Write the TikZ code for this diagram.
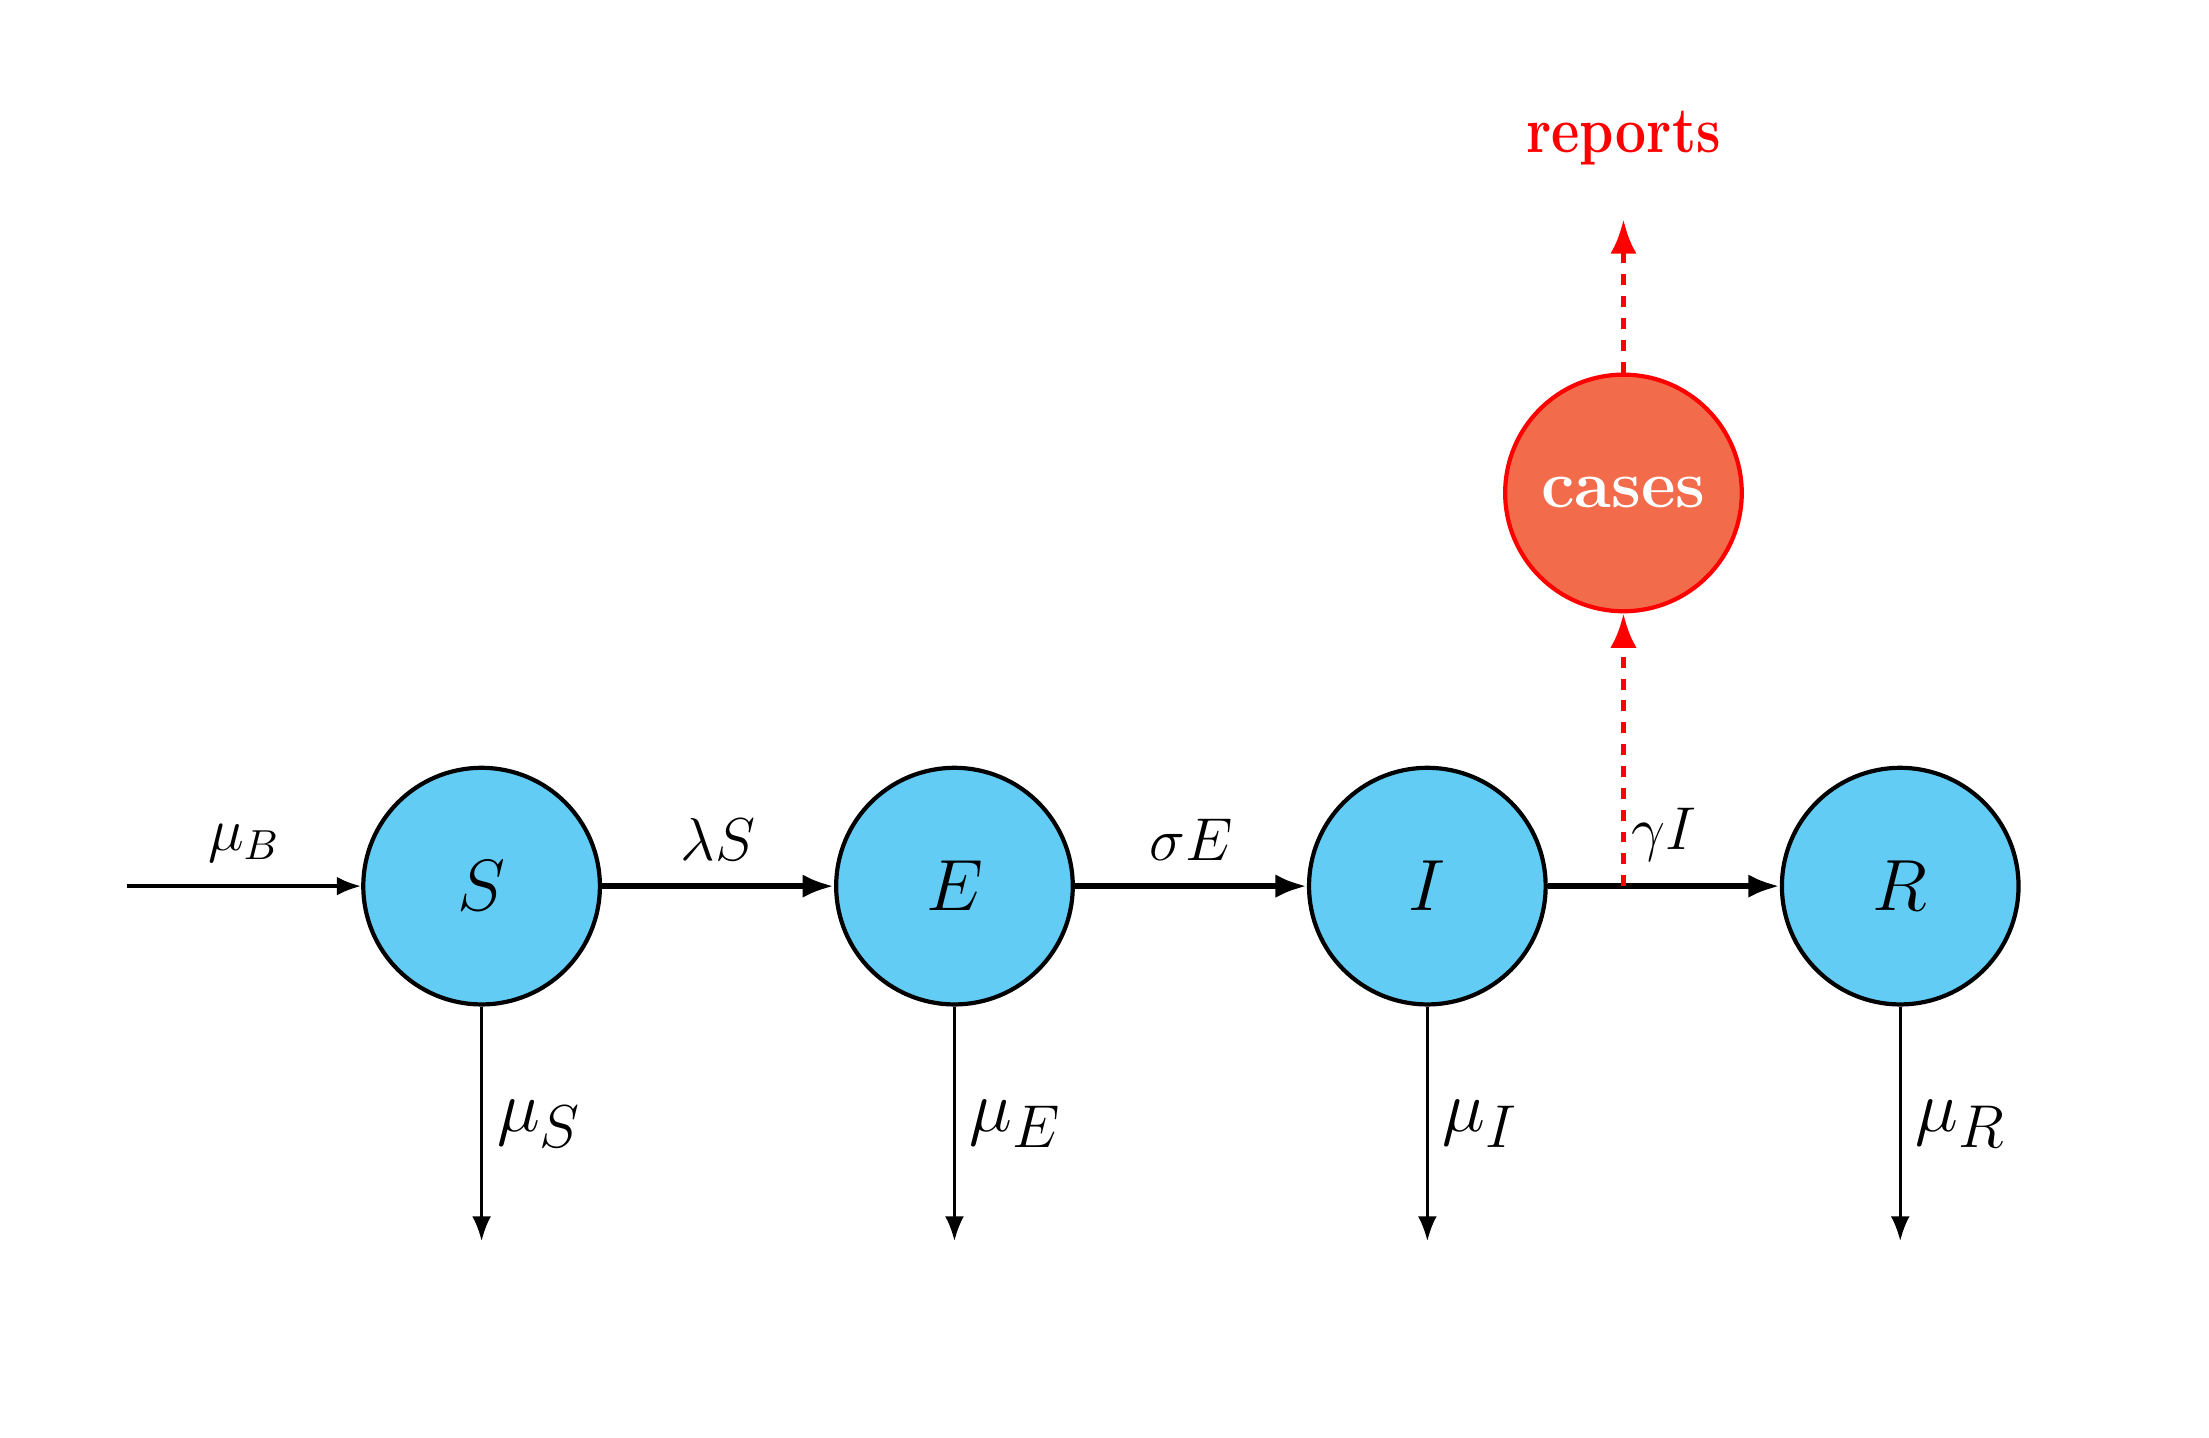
\documentclass[tikz,border=0pt]{standalone}
\usepackage{graphicx}
\usetikzlibrary{arrows.meta}
\definecolor{compblue}{RGB}{99,204,245}
\definecolor{casefill}{RGB}{242,107,75}
\begin{document}
\begin{tikzpicture}[
  comp/.style={circle, draw=black, line width=1pt, fill=compblue, minimum size=1.98cm, inner sep=0pt, font=\LARGE},
  obs/.style={circle, draw=red, line width=1pt, fill=casefill, minimum size=1.98cm, inner sep=0pt, font=\fontsize{16pt}{19pt}\selectfont\bfseries, text=white},
  flow/.style={-{Latex[length=7.5pt,width=5.6pt]}, line width=1.4pt},
  inflow/.style={-{Latex[length=5.8pt,width=4.5pt]}, line width=0.9pt},
  outflow/.style={-{Latex[length=5.9pt,width=4.5pt]}, line width=0.7pt},
  report/.style={-{Latex[length=8.2pt,width=6.3pt]}, red, line width=1.4pt, dash pattern=on 2.6pt off 2.6pt},
  rate/.style={font=\Large, above=2pt},
  outrate/.style={font=\LARGE, right=0pt}
]
\useasboundingbox (0,0) rectangle (18.485,12.025);
\node[comp] (S) at (4.03,4.61) {$S$};
\node[comp] (E) at (7.987,4.61) {$E$};
\node[comp] (I) at (11.944,4.61) {$I$};
\node[comp] (R) at (15.901,4.61) {$R$};
\node[obs] (C) at (13.585,7.90) {cases};
\node[text=red] (rep) at (13.585,10.87) {\scalebox{0.845}[1]{\fontsize{15.5pt}{18pt}\selectfont\bfseries reports}};
\coordinate (in) at (1.062,4.61);
\coordinate (g) at (13.585,4.61);
\coordinate (rtip) at (13.585,10.19);
\coordinate (dS) at (4.03,1.64);
\coordinate (dE) at (7.987,1.64);
\coordinate (dI) at (11.944,1.64);
\coordinate (dR) at (15.901,1.64);
\draw[inflow] (in) -- node[rate] {$\mu_B$} (S);
\draw[flow] (S) -- node[rate] {$\lambda S$} (E);
\draw[flow] (E) -- node[rate] {$\sigma E$} (I);
\draw[flow] (I) -- node[rate] {$\gamma I$} (R);
\draw[outflow] (S) -- node[outrate] {$\mu_{\mbox{\Large$S$}}$} (dS);
\draw[outflow] (E) -- node[outrate] {$\mu_{\mbox{\Large$E$}}$} (dE);
\draw[outflow] (I) -- node[outrate] {$\mu_{\mbox{\Large$I$}}$} (dI);
\draw[outflow] (R) -- node[outrate] {$\mu_{\mbox{\Large$R$}}$} (dR);
\draw[report] (g) -- (C);
\draw[report] (C) -- (rtip);
\end{tikzpicture}
\end{document}
